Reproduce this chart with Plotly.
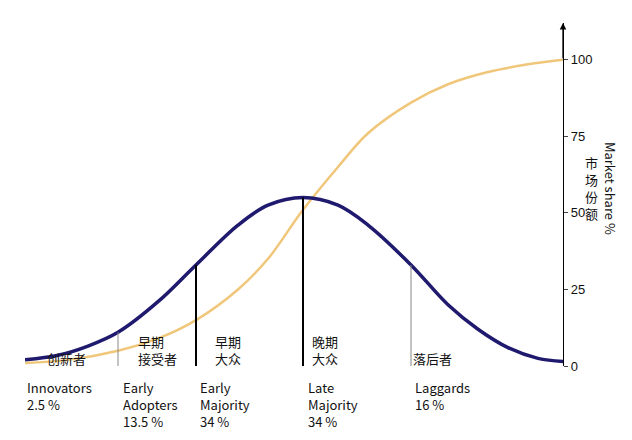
import plotly.graph_objects as go

# Adoption position (horizontal units) and values (%)
bell_x = [17, 50, 80, 110, 150, 188, 230, 260, 295, 330, 360, 403, 440, 470, 500, 530, 555]
bell_y = [2, 3.5, 6.5, 11, 21, 33, 46, 52.5, 55, 52.5, 46, 33, 20, 12, 6, 2.5, 1.5]
s_x = [17, 60, 110, 150, 188, 230, 260, 295, 330, 360, 403, 440, 480, 520, 555]
s_y = [1, 2, 5, 9, 15, 25, 35, 51, 65, 76, 86, 92, 96, 98.5, 100]
split_x = [110, 188, 295, 403]
split_y = [11, 33, 55, 33]
split_color = ["#888888", "#000000", "#000000", "#888888"]
cn_labels = ["创新者", "早期<br>接受者", "早期<br>大众", "晚期<br>大众", "落后者"]
cn_x = [37, 128, 205, 302, 403]
en_labels = ["Innovators<br>2.5 %", "Early<br>Adopters<br>13.5 %", "Early<br>Majority<br>34 %",
             "Late<br>Majority<br>34 %", "Laggards<br>16 %"]
en_x = [17, 113, 190, 298, 405]
ticks = [0, 25, 50, 75, 100]

fig = go.Figure()
fig.add_trace(go.Scatter(x=s_x, y=s_y, mode="lines", line=dict(color="#f0c77a", width=2.5, shape="spline")))
for x, y, c in zip(split_x, split_y, split_color):
    fig.add_shape(type="line", x0=x, x1=x, y0=0, y1=y, line=dict(color=c, width=2 if c == "#000000" else 1))
fig.add_trace(go.Scatter(x=bell_x, y=bell_y, mode="lines", line=dict(color="#1f1a6e", width=3.5, shape="spline")))

font = dict(family="Noto Sans CJK SC, Arial", size=13, color="#111")
for t, x in zip(cn_labels, cn_x):
    fig.add_annotation(x=x, y=0, text=t, showarrow=False, xanchor="left", yanchor="bottom",
                       align="left", font=font, yshift=-4)
for t, x in zip(en_labels, en_x):
    fig.add_annotation(x=x, y=0, text=t, showarrow=False, xanchor="left", yanchor="top",
                       align="left", font=font, yshift=-10)
fig.add_annotation(x=555, y=112, ax=555, ay=100, axref="x", ayref="y", text="", showarrow=True,
                   arrowhead=2, arrowsize=1, arrowwidth=1.3, arrowcolor="#000")
fig.add_annotation(xref="paper", yref="y", x=1, y=58, text="Market share %", textangle=90,
                   showarrow=False, xanchor="left", xshift=36, font=font)
fig.add_annotation(xref="paper", yref="y", x=1, y=58, text="市<br>场<br>份<br>额",
                   showarrow=False, xanchor="left", xshift=20, font=font)

fig.update_layout(
    width=632, height=440, showlegend=False, plot_bgcolor="white", paper_bgcolor="white",
    margin=dict(l=17, r=77, t=15, b=82, autoexpand=False),
    xaxis=dict(range=[17, 555], visible=False),
    yaxis=dict(range=[0, 112], side="right", tickvals=ticks, showgrid=False, zeroline=False,
               showline=True, linecolor="#000", linewidth=1.3, ticks="outside", ticklen=4,
               tickfont=dict(family="Arial", size=13, color="#111")),
)
fig.write_html("out.html")
